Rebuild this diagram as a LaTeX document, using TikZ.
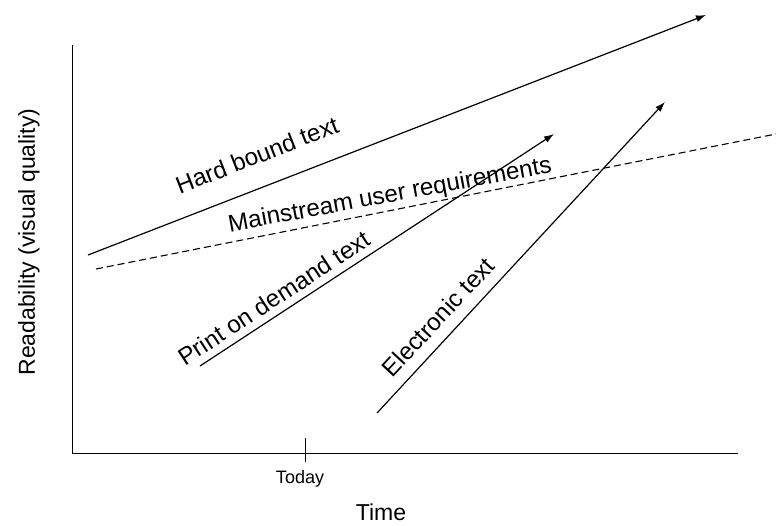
\documentclass[tikz,border=0pt]{standalone}
\usepackage{fontspec}
\setmainfont{Liberation Sans}
\usetikzlibrary{arrows.meta}

\begin{document}
\begin{tikzpicture}[x=1pt,y=-1pt,
    axis/.style={line width=1pt},
    trend/.style={line width=1.2pt,-{Latex[length=10pt,width=7pt]}},
    need/.style={line width=1.1pt,dash pattern=on 7pt off 4pt},
    lbl/.style={font=\fontsize{23}{27}\selectfont,inner sep=0pt},
    trendlbl/.style={font=\fontsize{24.2}{28}\selectfont,inner sep=0pt}]
    \useasboundingbox (0,0) rectangle (776,525);
    % axes
    \coordinate (origin) at (72,453);
    \coordinate (ytop) at (72,45);
    \coordinate (xend) at (738,453);
    \coordinate (tickup) at (305,438);
    \coordinate (tickdown) at (305,462);
    \draw[axis] (ytop) -- (origin) -- (xend);
    \draw[axis] (tickup) -- (tickdown);
    \node[font=\fontsize{18}{22}\selectfont,inner sep=0pt] (today) at (300,479) {Today};
    \node[lbl] (time) at (381,512) {Time};
    \node[lbl,rotate=90] (readability) at (29,242) {Readability (visual quality)};
    % trends
    \coordinate (hard-s) at (88,255);
    \coordinate (hard-e) at (706,15);
    \coordinate (need-s) at (96,269);
    \coordinate (need-e) at (776,134);
    \coordinate (print-s) at (200,366);
    \coordinate (print-e) at (554,134);
    \coordinate (elec-s) at (377,413);
    \coordinate (elec-e) at (665,102);
    \draw[trend] (hard-s) -- (hard-e);
    \draw[need] (need-s) -- (need-e);
    \draw[trend] (print-s) -- (print-e);
    \draw[trend] (elec-s) -- (elec-e);
    \node[trendlbl,rotate=21.3] (hard) at (257,155) {Hard bound text};
    \node[trendlbl,rotate=10.5] (mainstream) at (390,196) {Mainstream user requirements};
    \node[trendlbl,rotate=33.2] (print) at (274,298) {Print on demand text};
    \node[trendlbl,rotate=47] (elec) at (438,317) {Electronic text};
\end{tikzpicture}
\end{document}
